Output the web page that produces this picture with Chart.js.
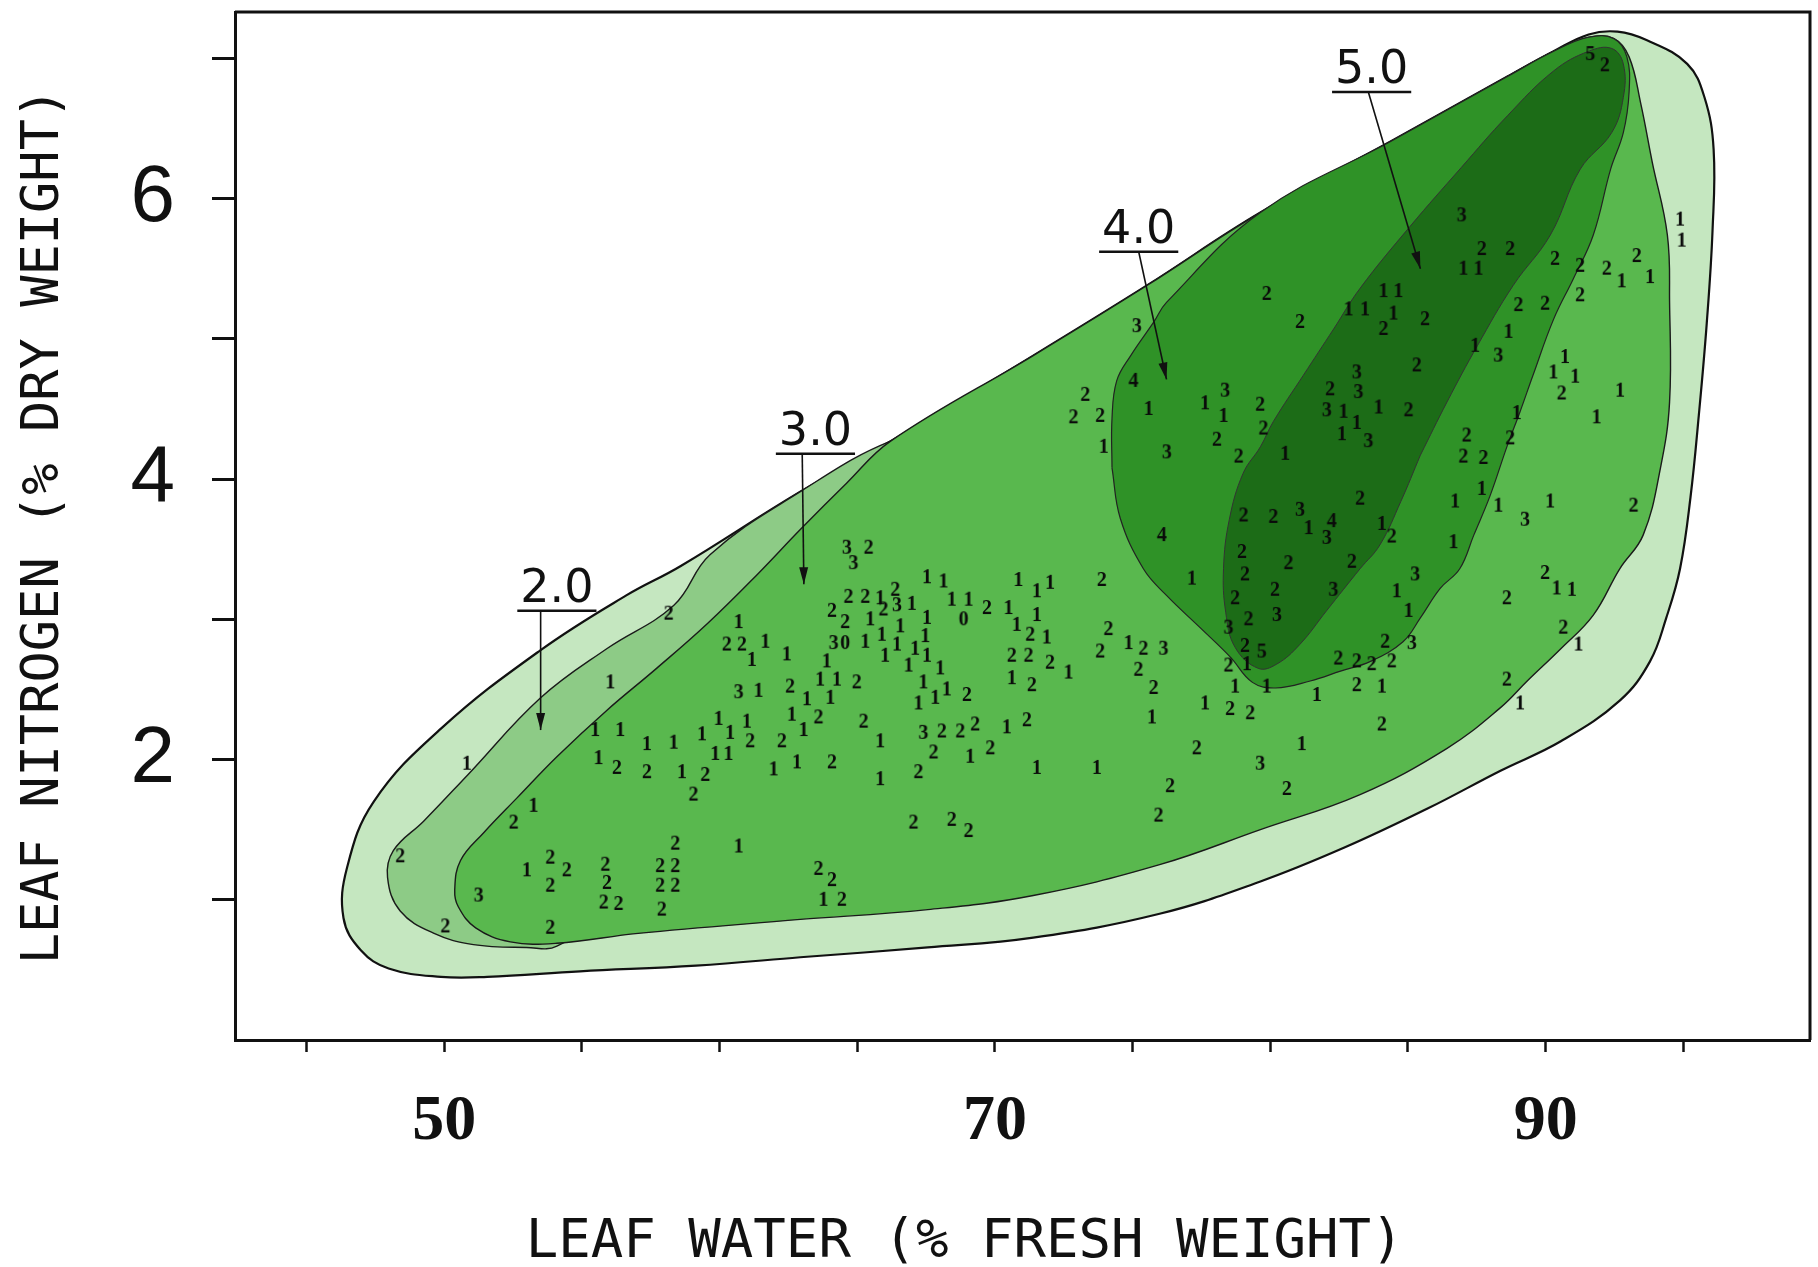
<!DOCTYPE html>
<html>
<head>
<meta charset="utf-8">
<title>Leaf nitrogen vs leaf water</title>
<script src="https://cdn.jsdelivr.net/npm/chart.js@4.4.1/dist/chart.umd.min.js"></script>
<style>
  html, body { margin: 0; padding: 0; background: #fff; }
</style>
</head>
<body>
<canvas id="chart" width="1818" height="1267"></canvas>
<script>
// axis setup
const xTickLabels = [50, 70, 90];
const yTickLabels = [2, 4, 6];
const xTitle = 'LEAF WATER (% FRESH WEIGHT)';
const yTitle = 'LEAF NITROGEN (% DRY WEIGHT)';

// contour outlines, [leaf water %, leaf nitrogen %]
const contour10 = [[62.93,0.59],[59.14,0.53],[54.93,0.49],[51.56,0.45],[49.88,0.45],[47.98,0.51],[46.97,0.64],[46.34,0.87],[46.47,1.23],[47.44,1.70],[49.88,2.22],[53.50,2.78],[56.61,3.17],[58.59,3.38],[62.93,3.91],[66.21,4.27],[71.39,4.88],[75.52,5.38],[79.64,5.90],[84.40,6.41],[88.61,6.87],[90.29,7.05],[91.56,7.17],[92.61,7.19],[93.66,7.13],[95.14,6.96],[95.77,6.72],[96.10,6.35],[96.06,5.77],[95.85,5.11],[95.56,4.45],[95.26,3.87],[94.88,3.36],[94.38,3.01],[93.79,2.70],[92.69,2.42],[90.55,2.13],[88.36,1.92],[85.71,1.65],[82.67,1.37],[79.64,1.13],[75.98,0.90],[71.39,0.73],[67.56,0.66],[62.93,0.59]];
const contour20 = [[63.35,1.65],[54.09,0.67],[52.99,0.66],[51.06,0.68],[49.63,0.76],[48.40,0.92],[47.94,1.16],[48.15,1.35],[49.25,1.56],[50.85,1.89],[53.50,2.44],[55.90,2.79],[58.34,3.10],[59.65,3.46],[62.93,3.91],[66.21,4.27],[67.80,4.30],[68.80,3.80],[63.35,1.65]];
const contour30 = [[62.93,0.86],[57.04,0.76],[54.09,0.69],[52.40,0.70],[51.14,0.80],[50.51,0.95],[50.38,1.07],[50.59,1.28],[51.44,1.48],[52.66,1.73],[54.09,2.02],[55.90,2.35],[57.71,2.65],[59.56,2.97],[61.37,3.32],[62.93,3.64],[64.61,3.97],[66.21,4.27],[71.39,4.88],[75.52,5.38],[79.64,5.90],[84.40,6.41],[88.61,6.87],[90.29,7.05],[91.56,7.15],[92.48,7.14],[93.03,7.01],[93.45,6.68],[93.87,6.26],[94.42,5.74],[94.50,5.26],[94.50,4.55],[94.17,4.08],[93.54,3.60],[92.69,3.36],[91.73,3.03],[90.55,2.79],[89.33,2.56],[88.36,2.37],[86.42,2.08],[83.26,1.75],[79.64,1.50],[75.98,1.25],[71.39,1.03],[67.56,0.93],[62.93,0.86]];
const contour40 = [[74.25,4.08],[74.25,4.43],[74.42,4.70],[74.93,4.88],[75.77,5.12],[76.23,5.26],[79.64,5.90],[84.40,6.41],[88.61,6.87],[90.29,7.05],[91.56,7.15],[92.48,7.14],[92.95,7.01],[93.03,6.76],[92.82,6.47],[92.36,6.21],[91.73,5.74],[91.01,5.43],[90.29,5.14],[89.54,4.74],[89.07,4.48],[88.61,4.24],[87.98,3.88],[87.39,3.60],[86.88,3.36],[86.17,3.22],[85.45,3.01],[84.82,2.84],[83.64,2.70],[82.55,2.63],[81.45,2.56],[80.19,2.51],[79.35,2.55],[78.55,2.73],[77.45,2.94],[76.23,3.17],[75.39,3.36],[74.55,3.72],[74.25,4.08]];
const contour50 = [[85.45,4.17],[84.74,3.84],[83.98,3.53],[83.26,3.36],[82.04,3.06],[81.07,2.82],[80.23,2.68],[79.56,2.65],[78.72,2.80],[78.38,3.05],[78.30,3.36],[78.51,3.71],[79.01,4.04],[79.64,4.23],[80.11,4.41],[81.20,4.74],[82.30,5.07],[83.26,5.36],[85.07,5.80],[86.93,6.22],[88.61,6.59],[90.29,6.91],[91.56,7.05],[92.40,7.07],[92.82,6.96],[92.82,6.72],[92.40,6.47],[91.26,6.21],[90.17,5.74],[88.82,5.38],[87.52,4.95],[86.42,4.55],[85.45,4.17]];

// plotted observations, grouped by the digit printed at each point
const ones = [[60.69,2.98],[61.66,2.84],[61.17,2.71],[62.44,2.75],[61.41,2.49],[56.03,2.55],[62.62,2.32],[59.96,2.29],[60.99,2.27],[55.48,2.21],[56.39,2.21],[60.38,2.19],[59.36,2.18],[57.36,2.11],[58.33,2.12],[59.84,2.04],[60.32,2.04],[55.60,2.01],[58.63,1.91],[61.96,1.93],[62.81,1.98],[50.82,1.97],[53.24,1.67],[60.69,1.38],[53.00,1.21],
  [67.53,3.30],[68.13,3.27],[70.85,3.28],[71.52,3.20],[72.00,3.26],[77.15,3.29],[65.83,3.15],[66.98,3.11],[68.43,3.14],[69.04,3.14],[70.49,3.08],[65.47,3.00],[66.56,2.95],[67.53,3.01],[70.79,2.96],[71.52,3.03],[65.29,2.84],[65.89,2.89],[66.44,2.82],[67.10,2.79],[67.47,2.88],[71.88,2.87],[63.89,2.70],[66.01,2.74],[66.86,2.67],[67.53,2.74],[68.01,2.65],[72.67,2.62],[74.85,2.83],[79.15,2.68],[63.65,2.57],[64.26,2.57],[67.40,2.55],[70.61,2.58],[63.17,2.43],[64.02,2.44],[67.22,2.40],[67.83,2.44],[68.25,2.50],[78.72,2.52],[63.05,2.21],[65.83,2.13],[70.43,2.23],[75.70,2.30],[77.63,2.40],[69.10,2.02],[65.83,1.86],[71.52,1.94],[73.70,1.94],[63.77,1.00],
  [73.95,4.23],[75.58,4.50],[77.63,4.54],[78.30,4.45],
  [87.01,5.50],[87.56,5.50],[92.76,5.41],[93.79,5.44],[94.88,5.85],[94.94,5.70],[84.11,5.34],[84.65,5.34],[82.84,5.21],[83.44,5.21],[84.47,5.18],[88.65,5.05],[87.44,4.95],[82.66,4.48],[83.93,4.51],[82.60,4.32],[83.14,4.40],[80.54,4.18],[90.70,4.87],[90.28,4.76],[91.07,4.73],[92.70,4.63],[91.85,4.44],[88.95,4.47],[87.68,3.93],[86.71,3.84],[88.28,3.81],[90.16,3.84],[86.65,3.55],[81.39,3.65],[84.05,3.68],
  [90.40,3.22],[90.95,3.21],[84.59,3.20],[85.02,3.06],[91.19,2.82],[79.87,2.52],[81.69,2.46],[84.05,2.52],[89.07,2.40],[81.14,2.11]];
const twos = [[58.15,3.04],[60.26,2.82],[60.81,2.82],[62.56,2.52],[61.11,2.13],[62.26,2.13],[56.27,1.94],[57.36,1.91],[59.48,1.89],[59.05,1.75],[52.52,1.55],[48.40,1.31],[53.85,1.30],[58.39,1.40],[54.45,1.21],[53.85,1.10],[55.85,1.25],[55.91,1.12],[55.79,0.98],[56.33,0.97],[57.84,1.24],[58.39,1.24],[57.84,1.10],[58.39,1.10],[57.90,0.93],[50.04,0.81],[53.85,0.80],
  [73.88,3.28],[79.08,3.32],[64.68,3.16],[65.29,3.16],[66.38,3.21],[69.71,3.08],[64.08,3.06],[64.56,2.98],[65.95,3.07],[78.72,3.15],[71.28,2.89],[74.12,2.93],[79.21,3.00],[70.61,2.74],[71.22,2.74],[72.00,2.69],[73.82,2.77],[75.39,2.79],[79.08,2.81],[64.98,2.55],[71.34,2.53],[75.21,2.64],[78.48,2.67],[68.98,2.46],[75.76,2.51],[63.59,2.30],[65.23,2.27],[68.07,2.20],[68.74,2.20],[69.28,2.25],[71.16,2.28],[78.54,2.36],[79.27,2.33],[64.08,1.98],[67.77,2.05],[69.83,2.08],[77.33,2.08],[67.22,1.91],[76.36,1.81],[67.04,1.55],[68.43,1.57],[69.04,1.49],[75.94,1.60],[63.59,1.22],[64.08,1.14],[64.44,1.00],
  [73.28,4.60],[72.85,4.44],[73.82,4.45],[78.06,4.28],[78.85,4.16],[79.03,3.74],[78.97,3.48],[65.41,3.51],
  [87.68,5.64],[88.71,5.64],[90.34,5.57],[91.25,5.52],[92.22,5.50],[93.31,5.59],[79.87,5.32],[81.08,5.12],[84.11,5.07],[85.62,5.14],[89.01,5.24],[89.98,5.25],[91.25,5.31],[85.32,4.81],[82.17,4.64],[85.02,4.49],[79.63,4.53],[79.75,4.36],[90.58,4.61],[87.13,4.31],[88.71,4.29],[87.01,4.16],[87.74,4.15],[93.19,3.81],[83.26,3.86],[80.11,3.73],[84.41,3.59],[82.96,3.41],[80.66,3.40],
  [89.98,3.33],[80.17,3.21],[88.59,3.15],[84.17,2.84],[90.64,2.94],[82.47,2.72],[83.14,2.70],[83.68,2.68],[84.41,2.70],[83.14,2.53],[88.59,2.57],[84.05,2.25],[80.60,1.79],[92.15,6.95]];
const threes = [[60.69,2.48],[51.25,1.03],[66.44,3.10],[64.14,2.83],[76.12,2.79],[78.48,2.94],[67.40,2.19],[75.15,5.09],[76.24,4.19],[78.36,4.63],[64.62,3.51],[64.86,3.40],[86.95,5.88],[88.28,4.88],[83.14,4.76],[83.20,4.62],[82.05,4.49],[83.56,4.27],[89.25,3.71],[81.08,3.78],[82.05,3.58],[85.26,3.32],[82.29,3.21],[80.24,3.03],[85.14,2.83],[79.63,1.97]];
const fours = [[75.03,4.70],[76.06,3.60],[82.23,3.70]];
const fives = [[79.69,2.77],[91.62,7.03]];
const zeros = [[68.86,3.00],[64.56,2.83]];

// contour level captions: text anchor, arrow tail (water) and arrow tip
const levelNames = ['2.0', '3.0', '4.0', '5.0'];
const labelWater = [54.09, 63.48, 75.22, 83.68];
const labelNitrogen = [3.21, 4.33, 5.77, 6.91];
const arrowTailWater = [53.50, 63.00, 75.22, 83.56];
const arrowTipWater = [53.50, 63.06, 76.23, 85.45];
const arrowTipNitrogen = [2.21, 3.25, 4.71, 5.50];

function region(label, pts, fill, stroke, width, order) {
    return {
        type: 'line',
        label: label,
        data: pts.map(p => ({ x: p[0], y: p[1] })),
        backgroundColor: fill,
        borderColor: stroke,
        borderWidth: width,
        fill: 'shape',
        tension: 0.4,
        pointRadius: 0,
        order: order
    };
}

function digitSprite(d) {
    const c = document.createElement('canvas');
    c.width = 14;
    c.height = 20;
    const g = c.getContext('2d');
    g.font = 'bold 20px "Liberation Serif", serif';
    g.fillStyle = '#0a0a0a';
    g.textAlign = 'center';
    g.textBaseline = 'middle';
    g.fillText(d, 7, 11);
    return c;
}

function numerals(d, pts) {
    return {
        type: 'scatter',
        label: d,
        data: pts.map(p => ({ x: p[0], y: p[1] })),
        pointStyle: digitSprite(d),
        pointRadius: 6,
        order: 0
    };
}

// box top/right edge, contour captions with arrows, x title
const notes = {
    id: 'notes',
    afterDatasetsDraw(chart) {
        const { ctx, chartArea: a, scales: { x, y } } = chart;
        ctx.save();
        ctx.strokeStyle = '#111';
        ctx.fillStyle = '#111';
        ctx.lineWidth = 3;
        ctx.beginPath();
        ctx.moveTo(a.left, a.top);
        ctx.lineTo(a.right, a.top);
        ctx.lineTo(a.right, a.bottom);
        ctx.stroke();

        ctx.font = '46px "DejaVu Sans", sans-serif';
        ctx.textAlign = 'center';
        ctx.textBaseline = 'middle';
        levelNames.forEach((t, i) => {
            const cx = x.getPixelForValue(labelWater[i]);
            const cy = y.getPixelForValue(labelNitrogen[i]);
            ctx.fillText(t, cx, cy);
            const w = ctx.measureText(t).width;
            const uy = cy + 21;
            ctx.lineWidth = 2.5;
            ctx.beginPath();
            ctx.moveTo(cx - w / 2 - 3, uy);
            ctx.lineTo(cx + w / 2 + 3, uy);
            ctx.stroke();

            const sx = x.getPixelForValue(arrowTailWater[i]);
            const tx = x.getPixelForValue(arrowTipWater[i]);
            const ty = y.getPixelForValue(arrowTipNitrogen[i]);
            ctx.lineWidth = 1.6;
            ctx.beginPath();
            ctx.moveTo(sx, uy);
            ctx.lineTo(tx, ty);
            ctx.stroke();
            const ang = Math.atan2(ty - uy, tx - sx);
            ctx.beginPath();
            ctx.moveTo(tx, ty);
            ctx.lineTo(tx - 17 * Math.cos(ang) + 4.5 * Math.sin(ang), ty - 17 * Math.sin(ang) - 4.5 * Math.cos(ang));
            ctx.lineTo(tx - 17 * Math.cos(ang) - 4.5 * Math.sin(ang), ty - 17 * Math.sin(ang) + 4.5 * Math.cos(ang));
            ctx.closePath();
            ctx.fill();
        });

        ctx.font = '54px "DejaVu Sans Mono", monospace';
        ctx.fillText(xTitle, x.getPixelForValue(68.9), chart.height - 24);
        ctx.restore();
    }
};

const ctx = document.getElementById('chart').getContext('2d');
new Chart(ctx, {
    type: 'scatter',
    data: {
        datasets: [
            region('1.0', contour10, '#c5e7c0', '#111', 2.2, 6),
            region('2.0', contour20, '#8dcb86', '#1a1a1a', 1.4, 5),
            region('3.0', contour30, '#59b84e', '#1a1a1a', 1.4, 4),
            region('4.0', contour40, '#2f9227', '#222', 1.2, 3),
            region('5.0', contour50, '#1c6c17', '#333', 1.0, 2),
            numerals('1', ones),
            numerals('2', twos),
            numerals('3', threes),
            numerals('4', fours),
            numerals('5', fives),
            numerals('0', zeros)
        ]
    },
    options: {
        responsive: false,
        animation: false,
        layout: { padding: { top: 12, right: 8, bottom: 0, left: 0 } },
        plugins: {
            legend: { display: false },
            tooltip: { enabled: false }
        },
        scales: {
            x: {
                type: 'linear',
                min: 42.4,
                max: 99.6,
                afterFit: s => { s.height = 227; s.paddingLeft = 0; s.paddingRight = 0; },
                border: { display: true, color: '#111', width: 3 },
                grid: { drawOnChartArea: false, drawTicks: true, tickLength: 12, tickWidth: 2.5, tickColor: '#111' },
                ticks: {
                    stepSize: 5,
                    includeBounds: false,
                    autoSkip: false,
                    maxRotation: 0,
                    padding: 32,
                    color: '#111',
                    font: { family: '"Liberation Serif", serif', size: 64, weight: 'bold' },
                    callback: v => xTickLabels.includes(v) ? String(v) : ''
                }
            },
            y: {
                type: 'linear',
                min: 0,
                max: 7.33,
                afterFit: s => { s.width = 235; s.paddingTop = 0; s.paddingBottom = 0; },
                border: { display: true, color: '#111', width: 3 },
                grid: {
                    drawOnChartArea: false,
                    drawTicks: true,
                    tickLength: 23,
                    tickWidth: 3,
                    tickColor: c => (c.tick && c.tick.value === 0) ? 'rgba(0,0,0,0)' : '#111'
                },
                ticks: {
                    stepSize: 1,
                    includeBounds: false,
                    padding: 37,
                    color: '#111',
                    font: { family: '"Liberation Sans Narrow", "Liberation Sans", sans-serif', size: 80 },
                    callback: v => yTickLabels.includes(v) ? String(v) : ''
                },
                title: {
                    display: true,
                    text: yTitle,
                    color: '#111',
                    padding: { top: 13, bottom: 0 },
                    font: { family: '"DejaVu Sans Mono", monospace', size: 52 }
                }
            }
        }
    },
    plugins: [notes]
});
</script>
</body>
</html>
